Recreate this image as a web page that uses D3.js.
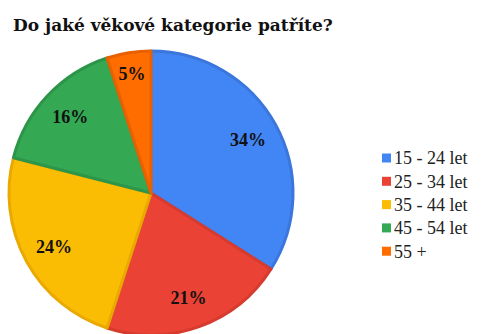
<!DOCTYPE html>
<html>
<head>
<meta charset="utf-8">
<script src="https://cdn.jsdelivr.net/npm/d3@7"></script>
<style>
  body { margin: 0; background: #fff; }
  svg { display: block; }
</style>
</head>
<body>
<svg id="chart" width="484" height="334"></svg>
<script>
var title = "Do jaké věkové kategorie patříte?";
var categories = ["15 - 24 let", "25 - 34 let", "35 - 44 let", "45 - 54 let", "55 +"];
var values = [34, 21, 24, 16, 5];
var fills = ["#4285f4", "#ea4335", "#fbbc04", "#34a853", "#ff6d01"];
var strokes = ["#3b76dc", "#d63b2e", "#e9a900", "#2d9549", "#e86100"];

var svg = d3.select("#chart");
var cx = 151, cy = 193, R = 142;
var serif = "'Liberation Serif', 'Times New Roman', serif";

svg.append("text")
    .attr("x", 13)
    .attr("y", 31)
    .style("font-family", "'DejaVu Serif', serif")
    .style("font-size", "17px")
    .style("font-weight", "bold")
    .style("fill", "#111")
    .text(title);

var pie = d3.pie().sort(null).value(function (d) { return d; });
var arcs = pie(values);
var arc = d3.arc().innerRadius(0).outerRadius(R);

var g = svg.append("g").attr("transform", "translate(" + cx + "," + cy + ")");

g.selectAll("path")
    .data(arcs)
    .enter()
    .append("path")
    .attr("d", arc)
    .style("fill", function (d, i) { return fills[i]; })
    .style("stroke", function (d, i) { return strokes[i]; })
    .style("stroke-width", 3)
    .style("stroke-linejoin", "round");

g.selectAll(".lbl")
    .data(arcs)
    .enter()
    .append("text")
    .attr("class", "lbl")
    .attr("transform", function (d) {
        var a = (d.startAngle + d.endAngle) / 2;
        var r = R * (d.data < 10 ? 0.85 : 0.78);
        return "translate(" + (Math.sin(a) * r) + "," + (-Math.cos(a) * r) + ")";
    })
    .attr("dy", "0.35em")
    .style("text-anchor", "middle")
    .style("font-family", serif)
    .style("font-size", "18px")
    .style("font-weight", "bold")
    .style("fill", "#111")
    .text(function (d) { return d.data + "%"; });

var legend = svg.append("g").attr("transform", "translate(382,158)");
var row = 23.3;

legend.selectAll("rect")
    .data(categories)
    .enter()
    .append("rect")
    .attr("x", 0)
    .attr("y", function (d, i) { return i * row - 4.5; })
    .attr("width", 9)
    .attr("height", 9)
    .style("fill", function (d, i) { return fills[i]; });

legend.selectAll("text")
    .data(categories)
    .enter()
    .append("text")
    .attr("x", 12)
    .attr("y", function (d, i) { return i * row; })
    .attr("dy", "0.35em")
    .style("font-family", serif)
    .style("font-size", "18px")
    .style("fill", "#222")
    .text(function (d) { return d; });
</script>
</body>
</html>
